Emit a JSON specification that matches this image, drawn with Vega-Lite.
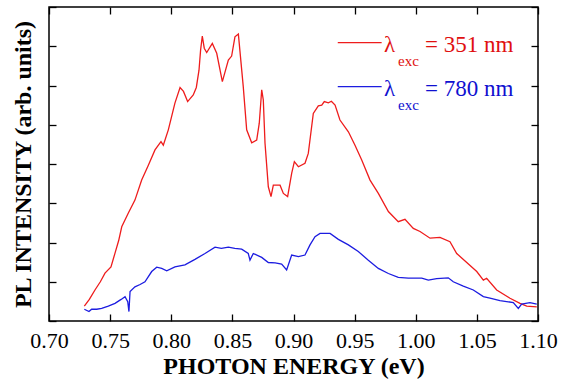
{
  "$schema": "https://vega.github.io/schema/vega-lite/v6.json",
  "width": 489,
  "height": 314,
  "autosize": "none",
  "padding": {"left": 49, "top": 7, "right": 33, "bottom": 58},
  "background": "white",
  "config": {
    "view": {"stroke": "#000", "strokeWidth": 1.5},
    "font": "Liberation Serif",
    "axis": {"domain": false, "grid": false, "tickColor": "#000", "tickWidth": 1.3, "labelColor": "#000", "titleColor": "#000", "labelFont": "Liberation Serif", "titleFont": "Liberation Serif"}
  },
  "datasets": {
    "red": [
      {"e": 0.7289, "i": 0.38}, {"e": 0.7330, "i": 0.55}, {"e": 0.7376, "i": 0.79}, {"e": 0.7420, "i": 1.00},
      {"e": 0.7458, "i": 1.22}, {"e": 0.7507, "i": 1.38}, {"e": 0.7540, "i": 1.73}, {"e": 0.7570, "i": 2.05},
      {"e": 0.7595, "i": 2.40}, {"e": 0.7649, "i": 2.75}, {"e": 0.7703, "i": 3.08}, {"e": 0.7758, "i": 3.59},
      {"e": 0.7810, "i": 3.95}, {"e": 0.7867, "i": 4.36}, {"e": 0.7916, "i": 4.57}, {"e": 0.7935, "i": 4.48},
      {"e": 0.7976, "i": 4.87}, {"e": 0.8030, "i": 5.55}, {"e": 0.8072, "i": 5.95}, {"e": 0.8100, "i": 5.85},
      {"e": 0.8134, "i": 5.59}, {"e": 0.8180, "i": 5.76}, {"e": 0.8205, "i": 5.95}, {"e": 0.8227, "i": 6.39},
      {"e": 0.8240, "i": 6.90}, {"e": 0.8254, "i": 7.26}, {"e": 0.8270, "i": 6.95}, {"e": 0.8290, "i": 6.84},
      {"e": 0.8336, "i": 7.07}, {"e": 0.8372, "i": 6.82}, {"e": 0.8418, "i": 6.10}, {"e": 0.8467, "i": 6.65},
      {"e": 0.8494, "i": 6.75}, {"e": 0.8521, "i": 7.24}, {"e": 0.8549, "i": 7.31}, {"e": 0.8589, "i": 5.97},
      {"e": 0.8617, "i": 4.87}, {"e": 0.8658, "i": 4.54}, {"e": 0.8699, "i": 4.61}, {"e": 0.8720, "i": 5.04},
      {"e": 0.8740, "i": 5.89}, {"e": 0.8753, "i": 5.63}, {"e": 0.8767, "i": 4.53}, {"e": 0.8794, "i": 3.42},
      {"e": 0.8816, "i": 3.17}, {"e": 0.8835, "i": 3.46}, {"e": 0.8890, "i": 3.46}, {"e": 0.8917, "i": 3.25},
      {"e": 0.8952, "i": 3.17}, {"e": 0.8985, "i": 3.76}, {"e": 0.9007, "i": 4.06}, {"e": 0.9040, "i": 3.93},
      {"e": 0.9094, "i": 4.02}, {"e": 0.9121, "i": 4.27}, {"e": 0.9162, "i": 5.29}, {"e": 0.9203, "i": 5.48},
      {"e": 0.9231, "i": 5.50}, {"e": 0.9252, "i": 5.59}, {"e": 0.9285, "i": 5.56}, {"e": 0.9310, "i": 5.60},
      {"e": 0.9340, "i": 5.50}, {"e": 0.9380, "i": 5.12}, {"e": 0.9449, "i": 4.82}, {"e": 0.9503, "i": 4.48},
      {"e": 0.9558, "i": 4.10}, {"e": 0.9626, "i": 3.59}, {"e": 0.9694, "i": 3.25}, {"e": 0.9776, "i": 2.79},
      {"e": 0.9857, "i": 2.53}, {"e": 0.9912, "i": 2.59}, {"e": 0.9980, "i": 2.36}, {"e": 1.0035, "i": 2.28},
      {"e": 1.0117, "i": 2.11}, {"e": 1.0198, "i": 2.13}, {"e": 1.0280, "i": 2.02}, {"e": 1.0335, "i": 1.72},
      {"e": 1.0417, "i": 1.49}, {"e": 1.0499, "i": 1.26}, {"e": 1.0553, "i": 1.04}, {"e": 1.0580, "i": 1.09},
      {"e": 1.0662, "i": 0.79}, {"e": 1.0771, "i": 0.58}, {"e": 1.0853, "i": 0.45}, {"e": 1.0908, "i": 0.38},
      {"e": 1.0990, "i": 0.36}
    ],
    "blue": [
      {"e": 0.7289, "i": 0.30}, {"e": 0.7327, "i": 0.24}, {"e": 0.7349, "i": 0.30}, {"e": 0.7390, "i": 0.30},
      {"e": 0.7431, "i": 0.32}, {"e": 0.7485, "i": 0.38}, {"e": 0.7540, "i": 0.45}, {"e": 0.7590, "i": 0.55},
      {"e": 0.7622, "i": 0.62}, {"e": 0.7644, "i": 0.49}, {"e": 0.7654, "i": 0.24}, {"e": 0.7663, "i": 0.75},
      {"e": 0.7703, "i": 0.87}, {"e": 0.7745, "i": 0.93}, {"e": 0.7785, "i": 1.00}, {"e": 0.7840, "i": 1.26},
      {"e": 0.7881, "i": 1.37}, {"e": 0.7922, "i": 1.34}, {"e": 0.7963, "i": 1.28}, {"e": 0.8030, "i": 1.38},
      {"e": 0.8112, "i": 1.43}, {"e": 0.8194, "i": 1.57}, {"e": 0.8276, "i": 1.72}, {"e": 0.8358, "i": 1.88},
      {"e": 0.8410, "i": 1.85}, {"e": 0.8467, "i": 1.88}, {"e": 0.8520, "i": 1.85}, {"e": 0.8576, "i": 1.83},
      {"e": 0.8630, "i": 1.72}, {"e": 0.8644, "i": 1.55}, {"e": 0.8671, "i": 1.72}, {"e": 0.8740, "i": 1.62},
      {"e": 0.8794, "i": 1.49}, {"e": 0.8850, "i": 1.48}, {"e": 0.8903, "i": 1.45}, {"e": 0.8944, "i": 1.30},
      {"e": 0.8985, "i": 1.68}, {"e": 0.9040, "i": 1.64}, {"e": 0.9094, "i": 1.68}, {"e": 0.9135, "i": 1.94},
      {"e": 0.9176, "i": 2.15}, {"e": 0.9217, "i": 2.23}, {"e": 0.9252, "i": 2.23}, {"e": 0.9299, "i": 2.23},
      {"e": 0.9367, "i": 2.08}, {"e": 0.9449, "i": 1.94}, {"e": 0.9530, "i": 1.77}, {"e": 0.9612, "i": 1.55},
      {"e": 0.9694, "i": 1.34}, {"e": 0.9776, "i": 1.21}, {"e": 0.9857, "i": 1.11}, {"e": 0.9939, "i": 1.09},
      {"e": 1.0049, "i": 1.09}, {"e": 1.0103, "i": 1.04}, {"e": 1.0171, "i": 1.08}, {"e": 1.0266, "i": 1.10},
      {"e": 1.0307, "i": 1.00}, {"e": 1.0389, "i": 0.89}, {"e": 1.0471, "i": 0.79}, {"e": 1.0553, "i": 0.62},
      {"e": 1.0607, "i": 0.58}, {"e": 1.0689, "i": 0.52}, {"e": 1.0798, "i": 0.47}, {"e": 1.0839, "i": 0.32},
      {"e": 1.0866, "i": 0.43}, {"e": 1.0934, "i": 0.47}, {"e": 1.0990, "i": 0.43}
    ],
    "one": [{}]
  },
  "layer": [
    {
      "data": {"name": "red"},
      "mark": {"type": "line", "color": "#ee1c1c", "strokeWidth": 1.3},
      "encoding": {
        "x": {"field": "e", "type": "quantitative", "scale": {"domain": [0.7, 1.1], "nice": false, "zero": false},
          "axis": {"orient": "bottom", "values": [0.7, 0.75, 0.8, 0.85, 0.9, 0.95, 1.0, 1.05, 1.1], "format": ".2f", "tickSize": -7, "labelFontSize": 22, "labelPadding": 16, "labelFlush": false, "labelOverlap": false, "title": "PHOTON ENERGY (eV)", "titleFontSize": 24, "titleFontWeight": "bold", "titlePadding": 3}},
        "y": {"field": "i", "type": "quantitative", "scale": {"domain": [0, 8], "nice": false},
          "axis": {"orient": "left", "values": [0, 1, 2, 3, 4, 5, 6, 7, 8], "labels": false, "tickSize": -7, "title": "PL INTENSITY (arb. units)", "titleFontSize": 24, "titleFontWeight": "bold", "titlePadding": 13}}
      }
    },
    {
      "data": {"name": "blue"},
      "mark": {"type": "line", "color": "#1c1ce0", "strokeWidth": 1.3},
      "encoding": {
        "x": {"field": "e", "type": "quantitative",
          "axis": {"orient": "top", "values": [0.7, 0.75, 0.8, 0.85, 0.9, 0.95, 1.0, 1.05, 1.1], "labels": false, "tickSize": -7, "title": null}},
        "y": {"field": "i", "type": "quantitative",
          "axis": {"orient": "right", "values": [0, 1, 2, 3, 4, 5, 6, 7, 8], "labels": false, "tickSize": -7, "title": null}}
      }
    },
    {
      "data": {"name": "one"},
      "mark": {"type": "rule", "color": "#ee1c1c", "strokeWidth": 1.3},
      "encoding": {"x": {"datum": 0.9362, "type": "quantitative", "axis": null}, "x2": {"datum": 0.9721}, "y": {"datum": 7.09, "type": "quantitative", "axis": null}}
    },
    {
      "data": {"name": "one"},
      "mark": {"type": "rule", "color": "#1c1ce0", "strokeWidth": 1.3},
      "encoding": {"x": {"datum": 0.9362, "type": "quantitative", "axis": null}, "x2": {"datum": 0.9721}, "y": {"datum": 5.97, "type": "quantitative", "axis": null}}
    },
    {
      "data": {"name": "one"},
      "mark": {"type": "text", "text": "λ", "color": "#e01010", "fontSize": 23, "align": "left", "baseline": "alphabetic", "font": "Liberation Serif"},
      "encoding": {"x": {"datum": 0.974, "type": "quantitative", "axis": null}, "y": {"datum": 6.85, "type": "quantitative", "axis": null}}
    },
    {
      "data": {"name": "one"},
      "mark": {"type": "text", "text": "exc", "color": "#e01010", "fontSize": 15, "align": "left", "baseline": "alphabetic", "font": "Liberation Serif"},
      "encoding": {"x": {"datum": 0.9855, "type": "quantitative", "axis": null}, "y": {"datum": 6.5, "type": "quantitative", "axis": null}}
    },
    {
      "data": {"name": "one"},
      "mark": {"type": "text", "text": "= 351 nm", "color": "#e01010", "fontSize": 23, "align": "left", "baseline": "alphabetic", "font": "Liberation Serif"},
      "encoding": {"x": {"datum": 1.0076, "type": "quantitative", "axis": null}, "y": {"datum": 6.85, "type": "quantitative", "axis": null}}
    },
    {
      "data": {"name": "one"},
      "mark": {"type": "text", "text": "λ", "color": "#1010d0", "fontSize": 23, "align": "left", "baseline": "alphabetic", "font": "Liberation Serif"},
      "encoding": {"x": {"datum": 0.974, "type": "quantitative", "axis": null}, "y": {"datum": 5.73, "type": "quantitative", "axis": null}}
    },
    {
      "data": {"name": "one"},
      "mark": {"type": "text", "text": "exc", "color": "#1010d0", "fontSize": 15, "align": "left", "baseline": "alphabetic", "font": "Liberation Serif"},
      "encoding": {"x": {"datum": 0.9855, "type": "quantitative", "axis": null}, "y": {"datum": 5.38, "type": "quantitative", "axis": null}}
    },
    {
      "data": {"name": "one"},
      "mark": {"type": "text", "text": "= 780 nm", "color": "#1010d0", "fontSize": 23, "align": "left", "baseline": "alphabetic", "font": "Liberation Serif"},
      "encoding": {"x": {"datum": 1.0076, "type": "quantitative", "axis": null}, "y": {"datum": 5.73, "type": "quantitative", "axis": null}}
    }
  ],
  "resolve": {"axis": {"x": "independent", "y": "independent"}}
}
